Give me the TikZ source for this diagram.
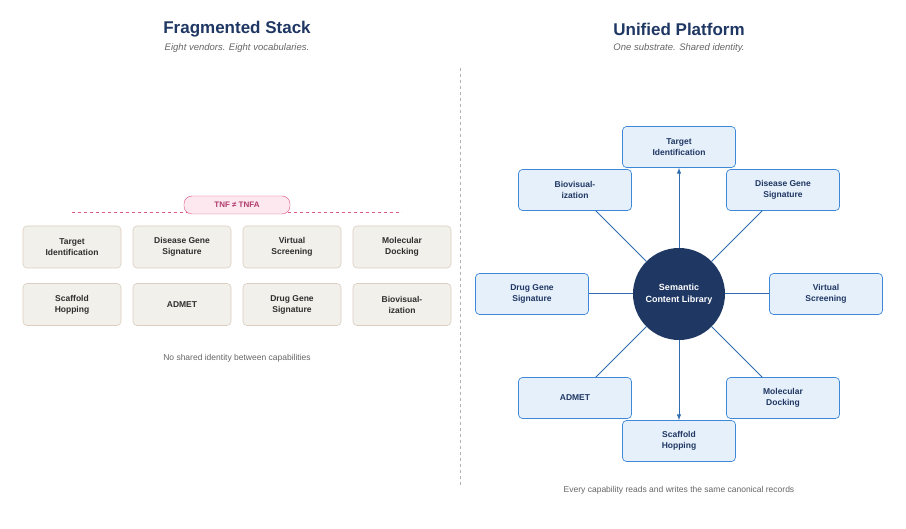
\documentclass[tikz,border=0pt]{standalone}
\usepackage{fontspec}
\setmainfont{Liberation Sans}
\begin{document}
\begin{tikzpicture}[x=1pt,y=-1pt,
  lbox/.style={draw=black!30!brown!30, fill=lbg, rounded corners=4pt, minimum width=98pt, minimum height=42pt, align=center, font=\fontsize{8.5}{11}\selectfont\bfseries, text=txt, line width=0.6pt},
  rbox/.style={draw=rbd, fill=rbg, rounded corners=4pt, minimum width=113pt, minimum height=41pt, align=center, font=\fontsize{8.5}{11}\selectfont\bfseries, text=navy, line width=0.7pt},
  conn/.style={draw=lnc, line width=1pt},
  ttl/.style={font=\fontsize{17}{20}\selectfont\bfseries, text=navy},
  sub/.style={font=\fontsize{9.5}{11}\selectfont\itshape, text=black!60},
  note/.style={font=\fontsize{8.5}{10}\selectfont, text=black!60}]
\definecolor{navy}{HTML}{1F3763}
\definecolor{lbg}{HTML}{F2F0EA}
\definecolor{txt}{HTML}{2E2E2E}
\definecolor{rbg}{HTML}{E6F0FB}
\definecolor{rbd}{HTML}{3F88D8}
\definecolor{lnc}{HTML}{2F6DB0}
\definecolor{pk}{HTML}{E0578A}
\definecolor{pkbg}{HTML}{FDE8EF}
\definecolor{pktx}{HTML}{B03A6A}
\useasboundingbox (0,0) rectangle (906,529);
\fill[white] (0,0) rectangle (906,529);
\node[ttl] (t1) at (237,29) {Fragmented Stack};
\node[sub] (s1) at (237,48) {Eight vendors. Eight vocabularies.};
\node[ttl] (t2) at (679,29) {Unified Platform};
\node[sub] (s2) at (679,48) {One substrate. Shared identity.};
\draw[black!30, dashed, line width=0.6pt] (460,68) -- (460,487);
% left
\draw[pk, dashed, line width=0.7pt] (72,212) -- (402,212);
\node[draw=pk, fill=pkbg, rounded corners=8pt, minimum width=106pt, minimum height=18pt, font=\fontsize{8}{10}\selectfont\bfseries, text=pktx] (badge) at (237,205) {TNF ≠ TNFA};
\node[lbox] (l1) at (72,247) {Target\\Identification};
\node[lbox] (l2) at (182,247) {Disease Gene\\Signature};
\node[lbox] (l3) at (292,247) {Virtual\\Screening};
\node[lbox] (l4) at (402,247) {Molecular\\Docking};
\node[lbox] (l5) at (72,304.5) {Scaffold\\Hopping};
\node[lbox] (l6) at (182,304.5) {ADMET};
\node[lbox] (l7) at (292,304.5) {Drug Gene\\Signature};
\node[lbox] (l8) at (402,304.5) {Biovisual-\\ization};
\node[note] (n1) at (237,358) {No shared identity between capabilities};
% right
\node[circle, fill=navy, minimum size=92pt, inner sep=0pt, align=center, text=white, font=\fontsize{9}{12}\selectfont\bfseries] (c) at (679,294) {Semantic\\Content Library};
\node[rbox] (r1) at (679,147) {Target\\Identification};
\node[rbox] (r2) at (575,190) {Biovisual-\\ization};
\node[rbox] (r3) at (783,190) {Disease Gene\\Signature};
\node[rbox] (r4) at (532,294) {Drug Gene\\Signature};
\node[rbox] (r5) at (826,294) {Virtual\\Screening};
\node[rbox] (r6) at (575,398) {ADMET};
\node[rbox] (r7) at (783,398) {Molecular\\Docking};
\node[rbox] (r8) at (679,441) {Scaffold\\Hopping};
\draw[conn, -latex] (c) -- (r1);
\draw[conn, -latex] (c) -- (r8);
\draw[conn] (c) -- (r2);
\draw[conn] (c) -- (r3);
\draw[conn] (c) -- (r4);
\draw[conn] (c) -- (r5);
\draw[conn] (c) -- (r6);
\draw[conn] (c) -- (r7);
\node[note] (n2) at (679,490) {Every capability reads and writes the same canonical records};
\end{tikzpicture}
\end{document}
